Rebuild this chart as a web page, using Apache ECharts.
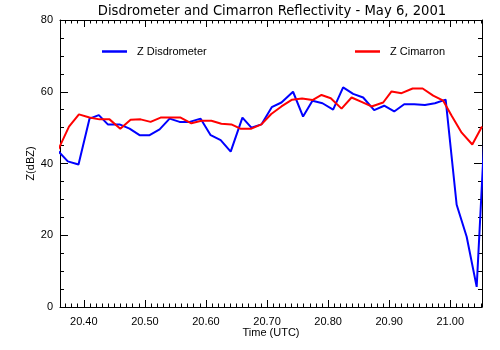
<!DOCTYPE html>
<html>
<head>
<meta charset="utf-8">
<script src="https://cdn.jsdelivr.net/npm/echarts@6/dist/echarts.min.js"></script>
<style>html,body{margin:0;padding:0;background:#fff}#c{width:500px;height:350px}</style>
</head>
<body>
<div id="c"></div>
<script>
// Time (UTC hours) and reflectivity (dBZ)
var disdroTime = [20.3577,20.3738,20.3913,20.4093,20.4246,20.4393,20.4585,20.4749,20.4913,20.5077,20.5241,20.5405,20.5569,20.5733,20.5913,20.6077,20.6241,20.6405,20.6597,20.6744,20.6908,20.7077,20.7236,20.7426,20.7590,20.7744,20.7908,20.8082,20.8246,20.8410,20.8574,20.8754,20.8918,20.9082,20.9246,20.9410,20.9585,20.9749,20.9925,21.0105,21.0269,21.0433,21.0602];
var disdroZ = [43.5,40.6,39.7,52.5,53.5,50.9,50.9,49.7,47.9,47.9,49.5,52.5,51.6,51.6,52.5,47.9,46.5,43.3,52.8,50.0,50.9,55.7,57.0,60.0,53.1,57.5,56.8,55.0,61.2,59.4,58.4,54.9,56.1,54.5,56.5,56.5,56.3,56.8,57.8,28.5,19.6,5.6,62.0];
var cimTime = [20.3585,20.3757,20.3920,20.4093,20.4257,20.4421,20.4597,20.4766,20.4930,20.5093,20.5257,20.5421,20.5585,20.5761,20.5925,20.6089,20.6252,20.6416,20.6564,20.6744,20.6908,20.7069,20.7236,20.7410,20.7574,20.7744,20.7892,20.8044,20.8220,20.8384,20.8548,20.8711,20.8902,20.9039,20.9203,20.9384,20.9548,20.9721,20.9885,21.0023,21.0187,21.0361,21.0520];
var cimZ = [44.0,50.3,53.7,52.8,52.3,52.3,49.7,52.2,52.3,51.6,52.8,52.8,52.8,51.2,51.9,51.9,51.1,50.9,49.7,49.7,50.9,53.8,55.9,57.8,58.1,57.7,59.1,58.2,55.3,58.4,57.2,55.9,57.0,60.1,59.6,60.9,60.9,58.9,57.5,53.3,48.6,45.3,50.3];
var xTickLabels = [20.40,20.50,20.60,20.70,20.80,20.90,21.00];
var yTickLabels = [0,20,40,60,80];

var X_MIN = 20.361, X_MAX = 21.052;
var minorX = [];
for (var k = 37; k <= 105; k++) { minorX.push(+(20 + k / 100).toFixed(2)); }

function pairs(t, z) { return t.map(function(v, i){ return [v, z[i]]; }); }

var font = 'Liberation Sans, Arial, sans-serif';
var tickLine = {color: '#000', width: 1};
var chart = echarts.init(document.getElementById('c'), null, {renderer: 'canvas'});
var base = {type: 'value', min: X_MIN, max: X_MAX, splitLine: {show: false}, gridIndex: 0};
chart.setOption({
  animation: false,
  backgroundColor: '#fff',
  title: {
    text: 'Disdrometer and Cimarron Reflectivity - May 6, 2001',
    left: 267, top: 0, textAlign: 'center',
    textStyle: {fontFamily: 'DejaVu Sans, sans-serif', fontSize: 13.2, fontWeight: 'normal', color: '#000'}
  },
  legend: [
    {data: ['Z Disdrometer'], left: 102, top: 46, padding: 0, icon: 'rect', itemWidth: 25, itemHeight: 2.5,
     textStyle: {fontFamily: font, fontSize: 11, color: '#000', padding: [0,0,0,5]}},
    {data: ['Z Cimarron'], left: 355, top: 46, padding: 0, icon: 'rect', itemWidth: 25, itemHeight: 2.5,
     textStyle: {fontFamily: font, fontSize: 11, color: '#000', padding: [0,0,0,5]}}
  ],
  grid: {left: 60, right: 18, top: 20, bottom: 43, containLabel: false},
  xAxis: [
    Object.assign({}, base, {
      position: 'bottom', name: 'Time (UTC)', nameLocation: 'middle', nameGap: 20, nameMoveOverlap: false,
      nameTextStyle: {fontFamily: font, fontSize: 11, color: '#000'},
      axisLine: {show: true, onZero: false, lineStyle: {color: '#000', width: 1}},
      axisTick: {show: true, inside: true, length: 7, customValues: xTickLabels, lineStyle: tickLine},
      axisLabel: {show: true, margin: 9, customValues: xTickLabels, fontFamily: font, fontSize: 11, color: '#000',
        formatter: function(v){ return v.toFixed(2); }}
    }),
    Object.assign({}, base, {
      position: 'bottom',
      axisLine: {show: false, onZero: false},
      axisTick: {show: true, inside: true, length: 3.5, customValues: minorX, lineStyle: tickLine},
      axisLabel: {show: false}
    }),
    Object.assign({}, base, {
      position: 'top',
      axisLine: {show: true, onZero: false, lineStyle: {color: '#000', width: 1}},
      axisTick: {show: true, inside: true, length: 7, customValues: xTickLabels, lineStyle: tickLine},
      axisLabel: {show: false}
    }),
    Object.assign({}, base, {
      position: 'top',
      axisLine: {show: false, onZero: false},
      axisTick: {show: true, inside: true, length: 3.5, customValues: minorX, lineStyle: tickLine},
      axisLabel: {show: false}
    })
  ],
  yAxis: [
    {type: 'value', min: 0, max: 80, interval: 20, position: 'left',
     name: 'Z(dBZ)', nameLocation: 'middle', nameGap: 24, nameRotate: 90, nameMoveOverlap: false,
     nameTextStyle: {fontFamily: font, fontSize: 11, color: '#000'},
     splitLine: {show: false},
     axisLine: {show: true, onZero: false, lineStyle: {color: '#000', width: 1}},
     axisTick: {show: true, inside: true, length: 8, lineStyle: tickLine},
     minorTick: {show: true, splitNumber: 4, length: 4, lineStyle: tickLine},
     axisLabel: {show: true, margin: 7, fontFamily: font, fontSize: 11, color: '#000',
       formatter: function(v){ return yTickLabels.indexOf(v) >= 0 ? String(v) : ''; }}},
    {type: 'value', min: 0, max: 80, interval: 20, position: 'right',
     splitLine: {show: false},
     axisLine: {show: true, onZero: false, lineStyle: {color: '#000', width: 1}},
     axisTick: {show: true, inside: true, length: 8, lineStyle: tickLine},
     minorTick: {show: true, splitNumber: 4, length: 4, lineStyle: tickLine},
     axisLabel: {show: false}}
  ],
  series: [
    {name: 'Z Disdrometer', type: 'line', xAxisIndex: 0, yAxisIndex: 0, data: pairs(disdroTime, disdroZ),
     showSymbol: false, clip: true, color: '#0000ff', lineStyle: {color: '#0000ff', width: 2}},
    {name: 'Z Cimarron', type: 'line', xAxisIndex: 0, yAxisIndex: 0, data: pairs(cimTime, cimZ),
     showSymbol: false, clip: true, color: '#ff0000', lineStyle: {color: '#ff0000', width: 2}}
  ]
});
</script>
</body>
</html>
